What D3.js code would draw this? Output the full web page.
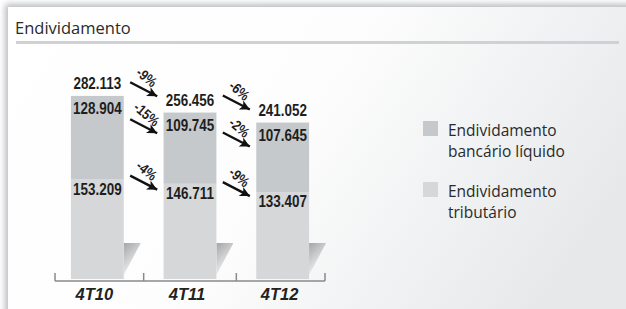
<!DOCTYPE html>
<html>
<head>
<meta charset="utf-8">
<script src="https://cdn.jsdelivr.net/npm/d3@7"></script>
<style>
  body { margin: 0; padding: 0; background: #ffffff; }
</style>
</head>
<body>
<svg class="chart" width="626" height="309"></svg>
<script>
var title = 'Endividamento';
var quarters = ['4T10', '4T11', '4T12'];
var bancario = [128904, 109745, 107645];
var tributario = [153209, 146711, 133407];
var legendLines = [['Endividamento', 'bancário líquido'], ['Endividamento', 'tributário']];

var darkGray = '#c6c9cc';
var lightGray = '#d5d7d9';
var ink = '#1e1e1e';
var numFont = '"Liberation Sans", Arial, sans-serif';
var textFont = '"Open Sans", "DejaVu Sans", sans-serif';
var squeeze = 0.84; // condensed look for the figures

var totals = quarters.map(function(q, i) { return bancario[i] + tributario[i]; });

var ptBR = d3.formatLocale({ decimal: ',', thousands: '.', grouping: [3], currency: ['R$', ''], minus: '-' });
var fmtNum = ptBR.format(',d');
var fmtPct = ptBR.format('.0%');

var svg = d3.select('.chart');
var x = d3.scaleBand().domain(quarters).range([51, 329]).paddingInner(0.43).paddingOuter(0.215);
var y = d3.scaleLinear().domain([0, 300000]).range([279, 84.3]);

function panelSetup() {
  var defs = svg.append('defs');
  var grad = defs.append('linearGradient').attr('id', 'panelBg')
    .attr('x1', 0).attr('y1', 0).attr('x2', 1).attr('y2', 0.35);
  grad.append('stop').attr('offset', 0).attr('stop-color', '#ffffff');
  grad.append('stop').attr('offset', 0.5).attr('stop-color', '#fdfdfd');
  grad.append('stop').attr('offset', 1).attr('stop-color', '#e6e8ea');

  var blur = defs.append('filter').attr('id', 'soft')
    .attr('x', -0.1).attr('y', -0.1).attr('width', 1.2).attr('height', 1.2);
  blur.append('feGaussianBlur').attr('stdDeviation', 3);

  var wedge = defs.append('linearGradient').attr('id', 'wedge')
    .attr('x1', 0).attr('y1', 0).attr('x2', 0.5).attr('y2', 1);
  wedge.append('stop').attr('offset', 0).attr('stop-color', '#a3a5a7');
  wedge.append('stop').attr('offset', 0.85).attr('stop-color', '#eeeeee');
  wedge.append('stop').attr('offset', 1).attr('stop-color', '#f7f7f7');

  defs.append('marker').attr('id', 'head')
    .attr('markerUnits', 'userSpaceOnUse')
    .attr('viewBox', '0 0 10 10')
    .attr('refX', 10).attr('refY', 5)
    .attr('markerWidth', 11).attr('markerHeight', 10)
    .attr('orient', 'auto')
    .append('path').attr('d', 'M0,0 L10,5 L0,10 L2.5,5 Z').attr('fill', '#111');

  svg.append('rect').attr('x', 0).attr('y', 0).attr('width', 626).attr('height', 309).attr('fill', '#ffffff');
  svg.append('rect').attr('x', 5).attr('y', 4).attr('width', 660).attr('height', 340)
    .attr('fill', '#b9bcbf').attr('filter', 'url(#soft)');
  svg.append('rect').attr('x', 8).attr('y', 7).attr('width', 660).attr('height', 340)
    .attr('fill', 'url(#panelBg)');

  svg.append('text').attr('x', 15).attr('y', 34)
    .attr('font-family', textFont).attr('font-size', 16.5).attr('fill', '#2a2a2a')
    .text(title);
  svg.append('rect').attr('x', 16).attr('y', 41).attr('width', 603).attr('height', 3)
    .attr('fill', '#cfd1d4');
}

function barsSetup() {
  var g = svg.append('g');
  var bw = x.bandwidth();

  g.selectAll('.wedge').data(quarters).enter().append('path')
    .attr('d', function(d) {
      var r = x(d) + bw;
      return 'M' + r + ',' + (y(0) - 36) + 'L' + (r + 17) + ',' + (y(0) - 36) + 'L' + r + ',' + (y(0) - 4) + 'Z';
    })
    .attr('fill', 'url(#wedge)');

  g.selectAll('.trib').data(quarters).enter().append('rect')
    .attr('x', function(d) { return x(d); })
    .attr('y', function(d, i) { return y(tributario[i]); })
    .attr('width', bw)
    .attr('height', function(d, i) { return y(0) - y(tributario[i]); })
    .attr('fill', lightGray);

  g.selectAll('.banc').data(quarters).enter().append('rect')
    .attr('x', function(d) { return x(d); })
    .attr('y', function(d, i) { return y(totals[i]); })
    .attr('width', bw)
    .attr('height', function(d, i) { return y(tributario[i]) - y(totals[i]); })
    .attr('fill', darkGray);

  function numLabels(vals, yPos) {
    g.selectAll(null).data(quarters).enter().append('text')
      .attr('transform', function(d, i) {
        return 'translate(' + (x(d) + bw / 2) + ',' + yPos(i) + ') scale(' + squeeze + ',1)';
      })
      .attr('text-anchor', 'middle')
      .attr('font-family', numFont).attr('font-weight', 'bold').attr('font-size', 16)
      .attr('fill', ink)
      .text(function(d, i) { return fmtNum(vals[i]); });
  }
  numLabels(totals, function(i) { return y(totals[i]) - 7; });
  numLabels(bancario, function(i) { return y(totals[i]) + 18; });
  numLabels(tributario, function(i) { return y(tributario[i]) + 15; });

  // axis
  var axisY = y(0) + 2;
  var edges = [x.range()[0] + 4];
  for (var i = 1; i < quarters.length; i++) {
    edges.push((x(quarters[i - 1]) + bw + x(quarters[i])) / 2);
  }
  edges.push(x.range()[1] - 4);
  g.append('line').attr('x1', edges[0]).attr('x2', edges[edges.length - 1])
    .attr('y1', axisY).attr('y2', axisY).attr('stroke', '#8a8a8a').attr('stroke-width', 1.5);
  g.selectAll('.tick').data(edges).enter().append('line')
    .attr('x1', function(d) { return d; }).attr('x2', function(d) { return d; })
    .attr('y1', axisY - 8).attr('y2', axisY).attr('stroke', '#8a8a8a').attr('stroke-width', 1.5);

  g.selectAll('.cat').data(quarters).enter().append('text')
    .attr('x', function(d) { return x(d) + bw / 2 - 3; })
    .attr('y', 300)
    .attr('text-anchor', 'middle')
    .attr('font-family', '"Liberation Sans", Arial, sans-serif')
    .attr('font-weight', 'bold').attr('font-style', 'italic').attr('font-size', 16.5)
    .attr('fill', '#222')
    .text(function(d) { return d; });
}

function arrowsSetup() {
  var g = svg.append('g');
  var bw = x.bandwidth();
  var rows = [
    { vals: totals, mid: function(i) { return (y(totals[i]) + y(totals[i + 1])) / 2 - 15; } },
    { vals: bancario, mid: function(i) { return (y(totals[i]) + y(totals[i + 1])) / 2 + 22; } },
    { vals: tributario, mid: function(i) { return (y(tributario[i]) + y(tributario[i + 1])) / 2 + 1; } }
  ];
  rows.forEach(function(r) {
    for (var i = 0; i < quarters.length - 1; i++) {
      var mx = (x(quarters[i]) + bw + x(quarters[i + 1])) / 2;
      var my = r.mid(i);
      g.append('line')
        .attr('x1', mx - 13.5).attr('y1', my - 7)
        .attr('x2', mx + 13.5).attr('y2', my + 7)
        .attr('stroke', '#111').attr('stroke-width', 2.4)
        .attr('marker-end', 'url(#head)');
      g.append('text')
        .attr('transform', 'translate(' + (mx + 3) + ',' + (my - 12) + ') rotate(40) scale(' + squeeze + ',1)')
        .attr('text-anchor', 'middle').attr('dy', '0.35em')
        .attr('font-family', numFont).attr('font-weight', 'bold').attr('font-size', 14.5)
        .attr('fill', ink)
        .text(fmtPct(r.vals[i + 1] / r.vals[i] - 1));
    }
  });
}

function legendSetup() {
  var colors = [darkGray, lightGray];
  var items = svg.append('g').selectAll('g').data(legendLines).enter().append('g')
    .attr('transform', function(d, i) { return 'translate(423,' + (121 + i * 61) + ')'; });
  items.append('rect').attr('width', 15).attr('height', 15)
    .attr('fill', function(d, i) { return colors[i]; });
  items.append('text')
    .attr('x', 25).attr('y', 15)
    .attr('font-family', textFont).attr('font-size', 15.5).attr('fill', '#2a2a2a')
    .selectAll('tspan').data(function(d) { return d; }).enter().append('tspan')
    .attr('x', 25).attr('dy', function(d, j) { return j ? 21 : 0; })
    .text(function(d) { return d; });
}

function init() {
  panelSetup();
  barsSetup();
  arrowsSetup();
  legendSetup();
}

init();
</script>
</body>
</html>
